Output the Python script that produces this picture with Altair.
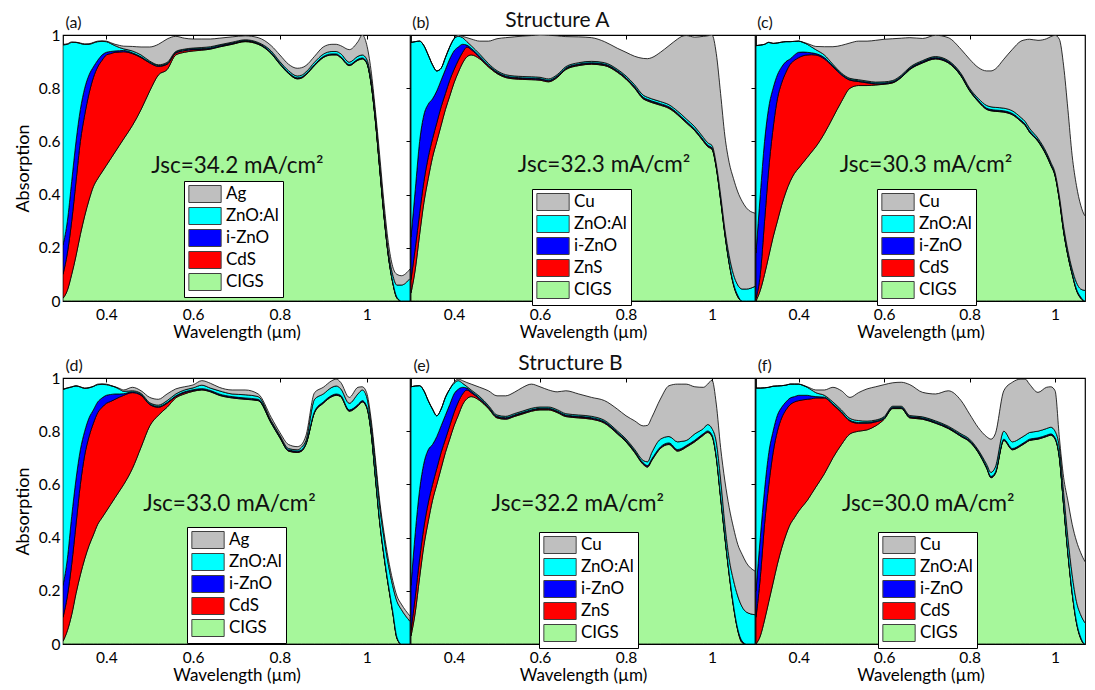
import altair as alt
import pandas as pd

# wavelength grid (µm)
W = [0.30,0.31,0.32,0.33,0.34,0.35,0.36,0.37,0.38,0.39,0.40,0.41,0.42,0.43,0.44,
     0.46,0.48,0.50,0.52,0.54,0.56,0.58,0.60,0.62,0.64,0.66,
     0.69,0.72,0.75,0.78,0.80,0.82,0.84,0.85,0.86,0.88,0.90,0.92,0.93,0.94,0.96,0.98,0.99,
     1.00,1.01,1.02,1.03,1.04,1.05,1.06,1.07,1.08,1.10]

# ---- (a) Structure A, Ag / CdS : cumulative tops (CIGS, +CdS, +i-ZnO, +ZnO:Al, +Ag)
A_CIGS = [.01,.04,.10,.17,.25,.32,.38,.43,.46,.485,.51,.535,.56,.585,.61,
          .66,.72,.79,.85,.87,.925,.935,.94,.943,.947,.955,
          .965,.975,.965,.93,.89,.855,.835,.838,.85,.885,.915,.925,.925,.915,.885,.905,.91,
          .895,.82,.68,.50,.32,.17,.07,.01,0,0]
A_CDS = [.10,.18,.30,.45,.60,.70,.78,.84,.88,.905,.925,.93,.935,.936,.937,
         .93,.915,.895,.882,.89,.932,.941,.945,.946,.949,.957,
         .967,.977,.967,.932,.892,.857,.837,.84,.852,.887,.917,.927,.927,.917,.887,.907,.912,
         .897,.822,.682,.502,.322,.172,.072,.012,0,0]
A_IZNO = [.21,.30,.45,.60,.72,.80,.85,.88,.905,.925,.935,.938,.94,.941,.942,
          .933,.918,.898,.885,.893,.935,.944,.948,.949,.952,.96,
          .97,.979,.969,.934,.894,.859,.839,.842,.854,.889,.919,.929,.929,.919,.889,.909,.914,
          .899,.824,.684,.504,.324,.174,.074,.014,0,0]
A_AZO = [.963,.965,.972,.972,.968,.965,.965,.970,.975,.976,.975,.968,.960,.953,.948,
         .94,.925,.902,.888,.897,.938,.947,.951,.953,.956,.963,
         .973,.982,.972,.94,.90,.866,.846,.849,.861,.898,.928,.938,.938,.93,.898,.92,.925,
         .91,.84,.70,.52,.34,.19,.10,.06,.06,.085]
A_TOT = [.965,.967,.974,.973,.970,.966,.967,.972,.977,.978,.977,.971,.965,.961,.958,
         .957,.955,.955,.965,.985,.995,.988,.985,.985,.985,.988,
         .993,.997,.99,.96,.925,.89,.875,.877,.885,.92,.955,.965,.965,.96,.945,.975,1.0,
         .965,.87,.72,.55,.37,.22,.13,.10,.095,.12]

# ---- (b) Structure A, Cu / ZnS
B_CIGS = [.03,.12,.25,.37,.46,.54,.60,.66,.72,.77,.82,.86,.895,.918,.925,
          .91,.88,.855,.84,.835,.833,.832,.83,.824,.84,.87,
          .885,.89,.885,.86,.834,.80,.76,.752,.746,.736,.724,.70,.685,.67,.64,.60,.58,
          .57,.50,.38,.25,.14,.06,.015,0,0,0]
B_ZNS = [.08,.20,.33,.45,.54,.61,.67,.73,.78,.83,.87,.905,.935,.955,.945,
         .915,.884,.858,.843,.838,.836,.835,.833,.827,.843,.873,
         .888,.893,.888,.863,.837,.803,.763,.755,.749,.739,.727,.703,.688,.673,.643,.603,.583,
         .573,.503,.383,.253,.143,.063,.018,0,0,0]
B_IZNO = [.24,.42,.60,.70,.74,.76,.79,.83,.87,.91,.94,.955,.965,.962,.95,
          .92,.887,.861,.846,.841,.839,.838,.836,.830,.846,.876,
          .891,.896,.891,.866,.84,.806,.766,.758,.752,.742,.73,.706,.691,.676,.646,.606,.586,
          .576,.506,.386,.256,.146,.066,.021,0,0,0]
B_AZO = [.972,.975,.977,.96,.925,.888,.865,.875,.915,.955,.985,.995,.99,.975,.96,
         .928,.893,.866,.851,.846,.844,.843,.841,.835,.851,.881,
         .896,.901,.896,.871,.846,.813,.774,.766,.76,.75,.738,.714,.70,.685,.655,.615,.595,
         .585,.515,.40,.27,.17,.10,.06,.045,.045,.055]
B_TOT = [.972,.975,.977,.96,.925,.888,.865,.875,.915,.955,.987,1.0,.995,.99,.985,
         .977,.977,.986,.99,.993,.996,.998,1.0,.999,.997,.994,
         .993,.99,.975,.95,.935,.92,.912,.911,.915,.935,.96,.985,.995,.998,.992,.995,.997,
         1.0,.93,.78,.62,.52,.46,.41,.375,.35,.33]

# ---- (c) Structure A, Cu / CdS
C_CIGS = [0,.04,.10,.17,.24,.30,.36,.41,.45,.48,.50,.52,.54,.56,.58,
          .63,.69,.75,.80,.81,.81,.812,.815,.82,.84,.87,
          .895,.91,.895,.845,.79,.75,.72,.715,.713,.71,.70,.675,.66,.635,.60,.546,.51,
          .47,.38,.26,.17,.10,.04,.01,0,0,0]
C_CDS = [.01,.10,.30,.50,.65,.76,.82,.86,.89,.905,.915,.922,.925,.926,.925,
         .91,.88,.85,.83,.825,.82,.816,.817,.822,.842,.872,
         .897,.912,.897,.847,.792,.752,.722,.717,.715,.712,.702,.677,.662,.637,.602,.548,.512,
         .472,.382,.262,.172,.102,.042,.012,0,0,0]
C_IZNO = [.18,.40,.60,.73,.80,.85,.88,.90,.91,.925,.935,.936,.935,.933,.93,
          .915,.884,.853,.833,.828,.823,.819,.82,.825,.845,.875,
          .90,.915,.90,.85,.795,.755,.725,.72,.718,.715,.705,.68,.665,.64,.605,.551,.515,
          .475,.385,.265,.175,.105,.045,.015,0,0,0]
C_AZO = [.96,.962,.965,.972,.968,.97,.973,.975,.975,.976,.977,.972,.965,.955,.945,
         .925,.89,.857,.837,.832,.827,.823,.824,.829,.849,.879,
         .904,.919,.904,.855,.80,.762,.735,.73,.728,.725,.715,.69,.675,.65,.612,.558,.522,
         .482,.395,.28,.19,.12,.07,.045,.04,.045,.05]
C_TOT = [.96,.962,.965,.973,.969,.97,.973,.975,.975,.976,.977,.973,.968,.962,.957,
         .956,.956,.961,.97,.977,.977,.98,.984,.986,.988,.99,
         .987,.999,.99,.946,.909,.878,.865,.865,.872,.909,.946,.977,.982,.984,.98,.986,.994,
         .999,.984,.884,.72,.546,.434,.36,.32,.31,.30]

# ---- (d) Structure B, Ag / CdS
D_CIGS = [.01,.05,.11,.19,.26,.32,.37,.41,.45,.475,.50,.525,.55,.575,.60,
          .66,.74,.82,.86,.89,.925,.94,.95,.955,.948,.935,
          .925,.92,.915,.83,.775,.725,.72,.725,.75,.87,.905,.93,.935,.93,.875,.895,.91,
          .89,.80,.63,.46,.33,.22,.12,.02,0,0]
D_CDS = [.10,.18,.30,.45,.60,.71,.78,.83,.87,.89,.905,.912,.92,.928,.935,
         .945,.935,.90,.89,.905,.93,.945,.953,.957,.95,.937,
         .927,.922,.917,.832,.777,.727,.722,.727,.752,.872,.907,.932,.937,.932,.877,.897,.912,
         .892,.802,.632,.462,.332,.222,.122,.022,0,0]
D_IZNO = [.22,.32,.48,.62,.73,.80,.85,.88,.91,.925,.935,.938,.94,.94,.941,
          .948,.938,.903,.893,.908,.933,.948,.956,.96,.953,.94,
          .93,.925,.92,.835,.78,.73,.725,.73,.755,.875,.91,.935,.94,.935,.88,.90,.915,
          .895,.805,.635,.465,.335,.225,.125,.025,0,0]
D_AZO = [.957,.962,.966,.97,.966,.961,.963,.968,.975,.976,.975,.971,.966,.958,.95,
         .952,.942,.907,.898,.915,.94,.955,.963,.973,.962,.952,
         .94,.937,.93,.84,.785,.735,.73,.74,.765,.92,.94,.965,.97,.96,.905,.94,.955,
         .93,.83,.68,.52,.40,.30,.22,.16,.13,.085]
D_TOT = [.958,.963,.967,.971,.967,.962,.964,.969,.977,.978,.977,.972,.967,.961,.955,
         .965,.952,.927,.92,.94,.959,.967,.974,.99,.98,.965,
         .955,.955,.94,.852,.795,.75,.742,.75,.783,.945,.965,.99,.996,.984,.927,.965,.967,
         .945,.85,.70,.54,.42,.32,.24,.18,.15,.105]

# ---- (e) Structure B, Cu / ZnS
E_CIGS = [.03,.12,.25,.37,.46,.54,.60,.66,.72,.77,.82,.86,.90,.922,.93,
          .915,.885,.85,.845,.855,.865,.875,.88,.88,.87,.855,
          .85,.845,.83,.79,.76,.72,.675,.665,.69,.735,.75,.725,.73,.74,.76,.785,.795,
          .78,.70,.55,.40,.26,.14,.05,.005,0,0]
E_ZNS = [.05,.18,.32,.44,.53,.60,.66,.72,.77,.82,.87,.91,.94,.955,.945,
         .92,.889,.853,.848,.858,.868,.878,.883,.883,.873,.858,
         .853,.848,.833,.793,.763,.723,.678,.668,.693,.738,.753,.728,.733,.743,.763,.788,.798,
         .783,.703,.553,.403,.263,.143,.053,.008,0,0]
E_IZNO = [.22,.42,.58,.68,.73,.75,.78,.82,.86,.90,.94,.958,.965,.962,.95,
          .924,.892,.856,.851,.861,.871,.881,.886,.886,.876,.861,
          .856,.851,.836,.796,.766,.726,.681,.671,.696,.741,.756,.731,.736,.746,.766,.791,.801,
          .786,.706,.556,.406,.266,.146,.056,.011,0,0]
E_AZO = [.967,.97,.971,.952,.915,.883,.858,.883,.927,.958,.98,.99,.98,.968,.955,
         .93,.897,.861,.856,.866,.876,.886,.891,.891,.881,.866,
         .861,.856,.841,.801,.771,.732,.69,.685,.72,.77,.78,.76,.762,.765,.79,.81,.825,
         .81,.76,.62,.45,.32,.24,.18,.14,.12,.11]
E_TOT = [.967,.97,.971,.952,.915,.883,.858,.883,.927,.958,.984,.996,.99,.983,.977,
         .965,.952,.933,.933,.946,.965,.977,.967,.955,.948,.952,
         .94,.927,.915,.883,.858,.839,.82,.822,.852,.921,.971,.977,.977,.977,.967,.965,.977,
         .992,.902,.739,.613,.513,.437,.374,.337,.305,.274]

# ---- (f) Structure B, Cu / CdS
F_CIGS = [0,.03,.09,.16,.23,.30,.36,.41,.45,.475,.50,.52,.54,.565,.59,
          .64,.70,.75,.79,.80,.805,.82,.845,.885,.885,.85,
          .845,.83,.81,.78,.76,.72,.66,.625,.64,.765,.73,.745,.755,.765,.77,.78,.785,
          .77,.70,.52,.34,.19,.08,.02,0,0,0]
F_CDS = [.10,.25,.45,.60,.72,.80,.85,.88,.90,.91,.915,.918,.92,.922,.925,
         .925,.90,.87,.838,.83,.83,.835,.848,.887,.887,.852,
         .847,.832,.812,.782,.762,.722,.662,.627,.642,.767,.732,.747,.757,.767,.772,.782,.787,
         .772,.702,.522,.342,.192,.082,.022,0,0,0]
F_IZNO = [.20,.40,.58,.72,.80,.86,.89,.91,.925,.93,.935,.935,.935,.932,.93,
          .928,.903,.873,.841,.833,.833,.838,.851,.89,.89,.855,
          .85,.835,.815,.785,.765,.725,.665,.63,.645,.77,.735,.75,.76,.77,.775,.785,.79,
          .775,.705,.525,.345,.195,.085,.025,0,0,0]
F_AZO = [.962,.962,.963,.965,.969,.97,.971,.973,.977,.977,.977,.972,.965,.955,.945,
         .935,.91,.88,.848,.84,.838,.842,.855,.894,.894,.859,
         .854,.839,.819,.79,.77,.73,.675,.645,.665,.80,.76,.775,.785,.795,.80,.81,.815,
         .80,.74,.57,.40,.26,.16,.11,.08,.065,.05]
F_TOT = [.962,.962,.963,.965,.969,.97,.971,.973,.977,.977,.977,.973,.967,.96,.955,
         .955,.965,.952,.927,.945,.959,.967,.975,.982,.984,.975,
         .946,.94,.952,.915,.864,.814,.779,.77,.79,.952,.984,.996,.996,.977,.946,.965,.967,
         .952,.776,.626,.538,.45,.387,.343,.31,.293,.28]

X_TICKS = [0.4, 0.6, 0.8, 1.0]
Y_TICKS = [0, 0.2, 0.4, 0.6, 0.8, 1.0]

LAYER_COLORS = {"metal": "#bfbfbf", "ZnO:Al": "#00ffff", "i-ZnO": "#0000ff",
                "buffer": "#ff0000", "CIGS": "#a6f79b"}

XMAX_CUT = 1.07  # right-hand panels are cut off by the page edge

PANELS = [
    dict(label="(a)", lpos=(0.306, 1.045), tops=[A_CIGS, A_CDS, A_IZNO, A_AZO, A_TOT],
         metal="Ag", buffer="CdS",
         jsc="Jsc=34.2 mA/cm²", jpos=(0.702, 0.507), leg=(121, 146), width=347, xmax=1.1,
         first=True, right=True, struct=None),
    dict(label="(b)", lpos=(0.303, 1.045), tops=[B_CIGS, B_ZNS, B_IZNO, B_AZO, B_TOT],
         metal="Cu", buffer="ZnS",
         jsc="Jsc=32.3 mA/cm²", jpos=(0.749, 0.51), leg=(121, 154), width=344, xmax=1.1,
         first=False, right=True, struct=("Structure A", 0.6405, 1.054)),
    dict(label="(c)", lpos=(0.303, 1.045), tops=[C_CIGS, C_CDS, C_IZNO, C_AZO, C_TOT],
         metal="Cu", buffer="CdS",
         jsc="Jsc=30.3 mA/cm²", jpos=(0.698, 0.51), leg=(121, 154), width=329, xmax=XMAX_CUT,
         first=False, right=False, struct=None),
    dict(label="(d)", lpos=(0.306, 1.045), tops=[D_CIGS, D_CDS, D_IZNO, D_AZO, D_TOT],
         metal="Ag", buffer="CdS",
         jsc="Jsc=33.0 mA/cm²", jpos=(0.684, 0.525), leg=(124, 149), width=347, xmax=1.1,
         first=True, right=True, struct=None),
    dict(label="(e)", lpos=(0.306, 1.045), tops=[E_CIGS, E_ZNS, E_IZNO, E_AZO, E_TOT],
         metal="Cu", buffer="ZnS",
         jsc="Jsc=32.2 mA/cm²", jpos=(0.688, 0.527), leg=(128, 154), width=344, xmax=1.1,
         first=False, right=True, struct=("Structure B", 0.671, 1.053)),
    dict(label="(f)", lpos=(0.304, 1.045), tops=[F_CIGS, F_CDS, F_IZNO, F_AZO, F_TOT],
         metal="Cu", buffer="CdS",
         jsc="Jsc=30.0 mA/cm²", jpos=(0.703, 0.527), leg=(122, 154), width=329, xmax=XMAX_CUT,
         first=False, right=False, struct=None),
]

FONT = "Lato"
H = 266


def text_layer(x, y, t, xs, ys, size, align, xaxis=None, yaxis=None):
    df = pd.DataFrame({"x": [x], "y": [y], "t": [t]})
    return alt.Chart(df).mark_text(
        font=FONT, fontSize=size, color="#111111", align=align, baseline="middle"
    ).encode(
        x=alt.X("x:Q", scale=xs, axis=xaxis),
        y=alt.Y("y:Q", scale=ys, axis=yaxis),
        text="t:N",
    )


def make_panel(p):
    names = ["CIGS", p["buffer"], "i-ZnO", "ZnO:Al", p["metal"]]
    keys = ["CIGS", "buffer", "i-ZnO", "ZnO:Al", "metal"]
    rows = []
    prev = [0.0] * len(W)
    for name, top in zip(names, p["tops"]):
        cur = [max(t, q) for t, q in zip(top, prev)]
        for i, w in enumerate(W):
            rows.append({"wl": w, "layer": name, "top": cur[i], "base": prev[i]})
        prev = cur
    df = pd.DataFrame(rows)

    legend_domain = names[::-1]
    legend_range = [LAYER_COLORS[k] for k in keys[::-1]]

    xs = alt.Scale(domain=[0.3, p["xmax"]], nice=False, zero=False)
    ys = alt.Scale(domain=[0, 1], nice=False, zero=False)

    x_bottom = alt.Axis(orient="bottom", values=X_TICKS, format="~g", title="Wavelength (µm)",
                        offset=-4, tickSize=4, labelPadding=6, titlePadding=2,
                        domain=False, grid=False)
    if p["first"]:
        y_left = alt.Axis(orient="left", values=Y_TICKS, format="~g", title="Absorption",
                          titleFontSize=18, offset=-4, tickSize=4, labelPadding=3,
                          titlePadding=6, domain=False, grid=False)
    else:
        y_left = alt.Axis(orient="left", values=Y_TICKS, labels=False, title=None,
                          offset=-4, tickSize=4, domain=False, grid=False)

    areas = alt.Chart(df).mark_area(
        stroke="black", strokeWidth=0.8, interpolate="monotone", clip=True, opacity=1
    ).encode(
        x=alt.X("wl:Q", scale=xs, axis=x_bottom),
        y=alt.Y("top:Q", scale=ys, axis=y_left),
        y2="base:Q",
        color=alt.Color(
            "layer:N",
            scale=alt.Scale(domain=legend_domain, range=legend_range),
            legend=alt.Legend(
                orient="none", legendX=p["leg"][0], legendY=p["leg"][1], title=None,
                symbolType="M-1.9,-1H1.9V1H-1.9Z", symbolSize=289, symbolOffset=8,
                symbolStrokeColor="#404040", symbolStrokeWidth=1, symbolOpacity=1,
                labelFont=FONT, labelFontSize=17, labelColor="black", labelOffset=12,
                strokeColor="black", fillColor="white", padding=4, rowPadding=0,
            ),
        ),
    )

    x_top = alt.Axis(orient="top", values=X_TICKS, labels=False, title=None,
                     offset=-4, tickSize=4, domain=False, grid=False)
    y_right = alt.Axis(orient="right", values=Y_TICKS, labels=False, title=None,
                       offset=-4, tickSize=4, domain=False, grid=False) if p["right"] else None

    layers = [
        areas,
        text_layer(p["jpos"][0], p["jpos"][1], p["jsc"], xs, ys, 22.5, "center", x_top, y_right),
        text_layer(p["lpos"][0], p["lpos"][1], p["label"], xs, ys, 16, "left"),
    ]
    if p["struct"] is not None:
        layers.append(text_layer(p["struct"][1], p["struct"][2], p["struct"][0], xs, ys, 21, "center"))

    return alt.layer(*layers).resolve_axis(x="independent", y="independent").properties(
        width=p["width"], height=H
    )


charts = [make_panel(p) for p in PANELS]

chart = alt.concat(
    *charts, columns=3, spacing={"row": 77, "column": 1}, bounds="flush", align="each"
).resolve_scale(
    color="independent"
).properties(
    padding={"left": 5, "top": 1, "right": 0, "bottom": 0}
).configure_view(
    stroke="black", strokeWidth=1.2
).configure_axis(
    labelFont=FONT, titleFont=FONT, labelFontSize=15.5, titleFontSize=17,
    labelColor="black", titleColor="black", tickColor="black", tickWidth=1,
    titleFontWeight="normal"
)

chart.save("out.html", embed_options={"renderer": "svg", "actions": False})
